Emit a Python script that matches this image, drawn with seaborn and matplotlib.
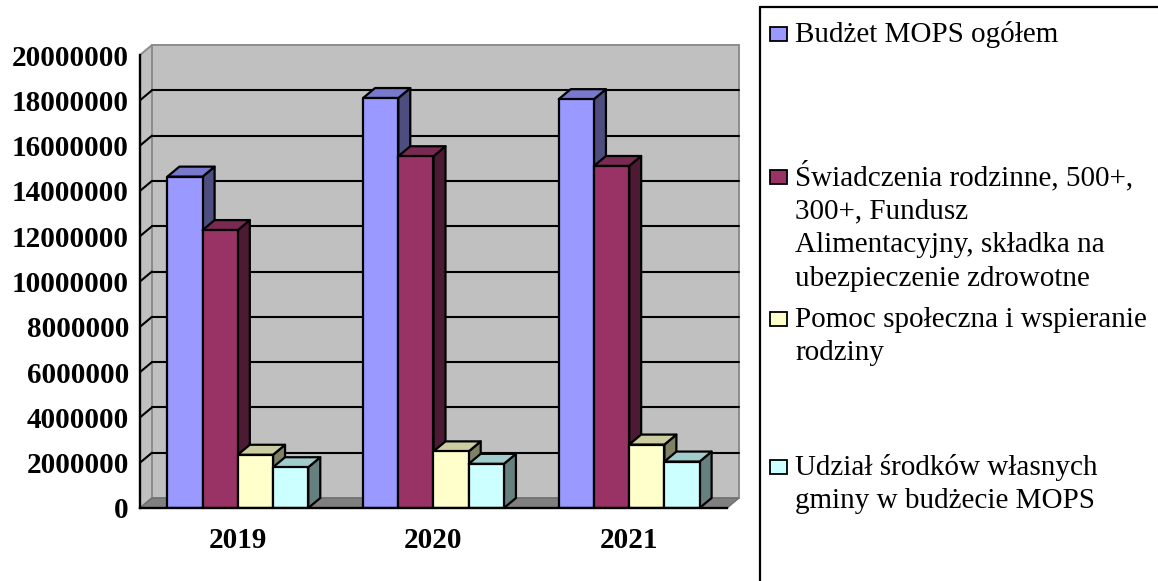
import numpy as np
import pandas as pd
import matplotlib
matplotlib.use('Agg')
import matplotlib.pyplot as plt
from matplotlib.patches import Polygon, Rectangle
from matplotlib.lines import Line2D
import seaborn as sns

# ---------------- data ----------------
years = ['2019', '2020', '2021']
series = [
    'Budżet MOPS ogółem',
    'Świadczenia rodzinne, 500+, 300+, Fundusz Alimentacyjny, składka na ubezpieczenie zdrowotne',
    'Pomoc społeczna i wspieranie rodziny',
    'Udział środków własnych gminy w budżecie MOPS',
]
legend_lines = [
    ['Budżet MOPS ogółem'],
    ['Świadczenia rodzinne, 500+,', '300+, Fundusz', 'Alimentacyjny, składka na', 'ubezpieczenie zdrowotne'],
    ['Pomoc społeczna i wspieranie', 'rodziny'],
    ['Udział środków własnych', 'gminy w budżecie MOPS'],
]
budzet = [14630000, 18100000, 18050000]
swiadczenia = [12270000, 15530000, 15100000]
pomoc = [2350000, 2500000, 2800000]
udzial = [1800000, 1950000, 2050000]
y_ticks = [0, 2000000, 4000000, 6000000, 8000000, 10000000,
           12000000, 14000000, 16000000, 18000000, 20000000]
y_tick_labels = ['0', '2000000', '4000000', '6000000', '8000000', '10000000',
                 '12000000', '14000000', '16000000', '18000000', '20000000']

front_colors = ['#9999FF', '#993366', '#FFFFCC', '#CCFFFF']
top_colors = ['#7878CC', '#7A2952', '#CCCCA3', '#A0CCCC']
side_colors = ['#4D4D80', '#4D1A33', '#808066', '#668080']

df = pd.DataFrame({
    'year': years * 4,
    'series': [s for s in series for _ in years],
    'value': budzet + swiadczenia + pomoc + udzial,
})

# ---------------- figure ----------------
sns.set_style('white')
plt.rcParams['font.family'] = ['Liberation Serif', 'DejaVu Serif']

W, H = 1158, 581
fig = plt.figure(figsize=(W / 100, H / 100), dpi=100)
fig.patch.set_facecolor('white')
ax = fig.add_axes([140 / W, (H - 508) / H, 587 / W, 453 / H])
ax.set_facecolor('none')

EDGE = 1.6
sns.barplot(data=df, x='year', y='value', hue='series', order=years,
            hue_order=series, palette=front_colors, width=0.72, saturation=1,
            edgecolor='black', linewidth=EDGE, legend=False, ax=ax)

ax.set_xlim(-0.5, 2.5)
ax.set_ylim(0, 20000000)
ax.set_xlabel('')
ax.set_ylabel('')

# depth offset (pixels -> data units)
dx = 12 / (ax.bbox.width / 3.0)
dy = 10 / (ax.bbox.height / 20000000.0)

x_lo, x_hi = -0.5, 2.5
y_top = 20000000
wall_kw = dict(facecolor='#C0C0C0', edgecolor='#8C8C8C', linewidth=1.4,
               clip_on=False, zorder=0.5)
# back wall
ax.add_patch(Polygon([(x_lo + dx, dy), (x_hi + dx, dy), (x_hi + dx, y_top + dy),
                      (x_lo + dx, y_top + dy)], **wall_kw))
# left wall
ax.add_patch(Polygon([(x_lo, 0), (x_lo + dx, dy), (x_lo + dx, y_top + dy),
                      (x_lo, y_top)], **wall_kw))
# floor
ax.add_patch(Polygon([(x_lo, 0), (x_lo + dx, dy), (x_hi + dx, dy), (x_hi, 0)],
                     facecolor='#808080', edgecolor='#6E6E6E', linewidth=1.0,
                     clip_on=False, zorder=0.8))
# gridlines (back wall + side wall)
for v in y_ticks[1:-1]:
    ax.add_line(Line2D([x_lo + dx, x_hi + dx], [v + dy, v + dy], color='black',
                       linewidth=1.5, zorder=1.2, clip_on=False))
    ax.add_line(Line2D([x_lo, x_lo + dx], [v, v + dy], color='black',
                       linewidth=1.5, zorder=1.2, clip_on=False))

# 3D faces for each bar
for k, cont in enumerate(ax.containers):
    for patch in cont:
        x0 = patch.get_x()
        x1 = x0 + patch.get_width()
        h = patch.get_height()
        side = Polygon([(x1, 0), (x1 + dx, dy), (x1 + dx, h + dy), (x1, h)],
                       facecolor=side_colors[k], edgecolor='black', linewidth=EDGE,
                       joinstyle='round', zorder=3 + 2 * k, clip_on=False)
        top = Polygon([(x0, h), (x0 + dx, h + dy), (x1 + dx, h + dy), (x1, h)],
                      facecolor=top_colors[k], edgecolor='black', linewidth=EDGE,
                      joinstyle='round', zorder=3 + 2 * k, clip_on=False)
        ax.add_patch(side)
        ax.add_patch(top)
        patch.set_zorder(4 + 2 * k)
        patch.set_joinstyle('round')

# spines & ticks
for s in ['top', 'right']:
    ax.spines[s].set_visible(False)
for s in ['left', 'bottom']:
    ax.spines[s].set_linewidth(1.7)
    ax.spines[s].set_color('black')
    ax.spines[s].set_zorder(20)

FS = 21
ax.set_yticks(y_ticks, y_tick_labels)
ax.tick_params(axis='y', direction='out', length=5, width=1.6, pad=3,
               labelsize=FS, colors='black')
for lbl in ax.get_yticklabels():
    lbl.set_fontweight('bold')

ax.set_xticks([0, 1, 2], years)
ax.set_xticks([-0.5, 0.5, 1.5, 2.5], minor=True)
ax.tick_params(axis='x', which='major', length=0, pad=14, labelsize=FS,
               colors='black')
ax.tick_params(axis='x', which='minor', direction='out', length=6, width=1.6,
               colors='black')
for lbl in ax.get_xticklabels():
    lbl.set_fontweight('bold')

# ---------------- legend (manual, Excel-like) ----------------
fig.add_artist(Line2D([760 / W, 760 / W], [1 - 7 / H, 0], color='black',
                      linewidth=1.6, transform=fig.transFigure))
fig.add_artist(Line2D([760 / W, 1.0], [1 - 7 / H, 1 - 7 / H], color='black',
                      linewidth=1.6, transform=fig.transFigure))

first_baselines = [42, 185, 327, 475]
line_step = 33.5
for k, lines in enumerate(legend_lines):
    b0 = first_baselines[k]
    fig.add_artist(Rectangle((770 / W, 1 - (b0 - 1) / H), 17 / W, 14 / H,
                             facecolor=front_colors[k], edgecolor='black',
                             linewidth=1.3, transform=fig.transFigure))
    for i, line in enumerate(lines):
        fig.text(795 / W, 1 - (b0 + i * line_step) / H, line, fontsize=FS,
                 va='baseline', ha='left', color='black')

fig.savefig('out.png', dpi=100, facecolor='white')
